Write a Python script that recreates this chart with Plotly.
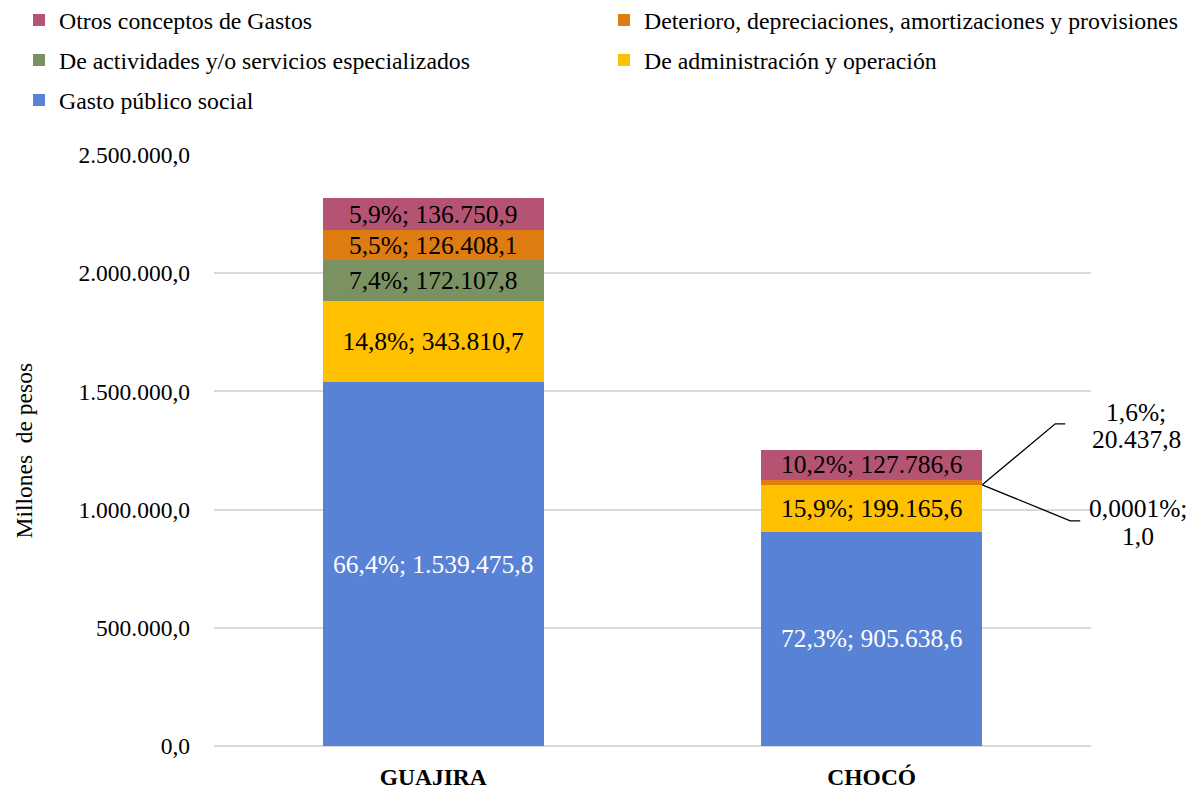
import plotly.graph_objects as go

# ---------------- data ----------------
categories = ["GUAJIRA", "CHOCÓ"]

gasto_social = [1539475.8, 905638.6]
administracion = [343810.7, 199165.6]
actividades = [172107.8, 1.0]
deterioro = [126408.1, 20437.8]
otros = [136750.9, 127786.6]

gasto_pct = ["66,4%", "72,3%"]
admin_pct = ["14,8%", "15,9%"]
activ_pct = ["7,4%", "0,0001%"]
deter_pct = ["5,5%", "1,6%"]
otros_pct = ["5,9%", "10,2%"]

# labels drawn as callouts outside the bar (True) instead of inside
activ_callout = [False, True]
deter_callout = [False, True]

series_names = [
    "Gasto público social",
    "De administración y operación",
    "De actividades y/o servicios especializados",
    "Deterioro, depreciaciones, amortizaciones y provisiones",
    "Otros conceptos de Gastos",
]
colors = ["#5882D6", "#FFC000", "#7A9161", "#DE7C11", "#B55373"]
text_colors = ["white", "black", "black", "black", "black"]
legend_ids = ["legend5", "legend4", "legend3", "legend2", "legend"]

FONT = "Times New Roman, Liberation Serif, serif"
FS = 23.5      # axis text
FS_LEG = 23.8  # legend text
FS_LAB = 25.5  # data labels

# figure geometry (body margin removed below, so figure == page)
W, H = 1190, 789
L, T = 214, 155
R = W - 1091
B = H - 746
PW, PH = W - L - R, H - T - B


def fmt(v):
    s = f"{v:,.1f}"
    return s.replace(",", "X").replace(".", ",").replace("X", ".")


values = [gasto_social, administracion, actividades, deterioro, otros]
pcts = [gasto_pct, admin_pct, activ_pct, deter_pct, otros_pct]
callouts = [[False, False], [False, False], activ_callout, deter_callout, [False, False]]

fig = go.Figure()
for name, vals, pc, co, col, tc, lg in zip(series_names, values, pcts, callouts,
                                           colors, text_colors, legend_ids):
    texts = ["" if c else f"{p}; {fmt(v)}" for v, p, c in zip(vals, pc, co)]
    fig.add_trace(go.Bar(
        x=categories, y=vals, name=name,
        marker=dict(color=col, line=dict(width=0)),
        text=texts, textposition="inside", insidetextanchor="middle",
        textangle=0, constraintext="none",
        insidetextfont=dict(family=FONT, size=FS_LAB, color=tc),
        legend=lg, hoverinfo="skip",
    ))

# callouts for the thin CHOCÓ segments
bar_width = 0.504
ci = 1
base_top = gasto_social[ci] + administracion[ci]
anchor_x = ci + bar_width / 2

call_specs = [
    # (pct, value, leader path in px relative to anchor, text x shift, y shifts of the 2 lines)
    (deter_pct[ci], deterioro[ci], "M0,0 L73,61 L83,61", 154, (72, 45)),
    (activ_pct[ci], actividades[ci], "M0,0 L88,-36 L98,-36", 156, (-24, -52)),
]
for pc, v, path, dx, (dy1, dy2) in call_specs:
    fig.add_shape(type="path", path=path, xref="x", yref="y",
                  xsizemode="pixel", ysizemode="pixel",
                  xanchor=anchor_x, yanchor=base_top,
                  line=dict(color="black", width=1.3))
    for txt, dy in ((f"{pc};", dy1), (fmt(v), dy2)):
        fig.add_annotation(x=anchor_x, y=base_top, xref="x", yref="y",
                           text=txt, showarrow=False,
                           xshift=dx, yshift=dy, align="center",
                           font=dict(family=FONT, size=FS_LAB, color="black"))

# y axis title
fig.add_annotation(text="Millones\u00a0 de pesos", xref="paper", yref="paper",
                   x=(8 - L) / PW, y=0.5, textangle=-90, showarrow=False,
                   font=dict(family=FONT, size=FS, color="black"))

legend_common = dict(orientation="h", xanchor="left", yanchor="middle",
                     bgcolor="rgba(0,0,0,0)", borderwidth=0,
                     font=dict(family=FONT, size=FS_LEG, color="black"))


def lpos(px, py):
    return dict(x=(px - L) / PW, y=(H - B - py) / PH, **legend_common)


col1, col2 = 19, 604
fig.update_layout(
    width=W, height=H,
    margin=dict(l=L, r=R, t=T, b=B, autoexpand=False),
    barmode="stack", bargap=1 - bar_width,
    plot_bgcolor="white", paper_bgcolor="white",
    separators=",.",
    font=dict(family=FONT, size=FS, color="black"),
    legend=lpos(col1, 20),
    legend2=lpos(col2, 20),
    legend3=lpos(col1, 60),
    legend4=lpos(col2, 60),
    legend5=lpos(col1, 100),
    showlegend=True,
    yaxis=dict(range=[0, 2500000], dtick=500000, tickformat=",.1f",
               gridcolor="#D9D9D9", gridwidth=1.5, zeroline=True,
               zerolinecolor="#D9D9D9", zerolinewidth=1.5,
               showline=False, ticks="", ticklabelstandoff=23,
               tickfont=dict(family=FONT, size=FS, color="black")),
    xaxis=dict(range=[-0.5, 1.5], showline=False, ticks="", ticklabelstandoff=14,
               tickfont=dict(family=FONT, size=FS, color="black", weight="bold")),
)

fig.write_html(
    "out.html",
    config={"displayModeBar": False},
    post_script="document.body.style.margin='0';document.body.style.overflow='hidden';",
)
